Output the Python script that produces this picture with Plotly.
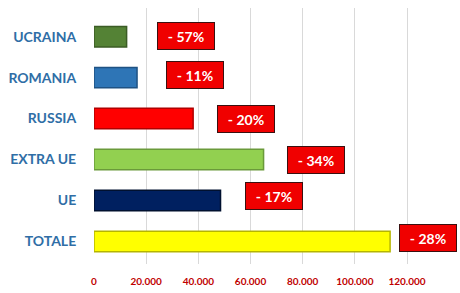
import plotly.graph_objects as go

categories = ["TOTALE", "UE", "EXTRA UE", "RUSSIA", "ROMANIA", "UCRAINA"]
values = [113500, 48500, 65000, 38000, 16500, 12500]
changes = ["- 28%", "- 17%", "- 34%", "- 20%", "- 11%", "- 57%"]
tick_vals = [0, 20000, 40000, 60000, 80000, 100000, 120000]
tick_text = ["0", "20.000", "40.000", "60.000", "80.000", "100.000", "120.000"]

bar_colors = ["#FFFF00", "#002060", "#92D050", "#FF0000", "#2E75B6", "#548235"]
edge_colors = ["#B5B500", "#00102F", "#6A9A3A", "#B00000", "#1F5283", "#3B5C25"]
label_xshift = [9, 24, 23, 24, 29, 30]
label_yshift = [3, 5, 0, 0, 3, 1]

fig = go.Figure()
fig.add_trace(go.Bar(
    y=categories, x=values, orientation="h",
    marker=dict(color=bar_colors, line=dict(color=edge_colors, width=1.5)),
    width=0.5, hoverinfo="skip",
))

for c, v, t, xs, ys in zip(categories, values, changes, label_xshift, label_yshift):
    fig.add_annotation(
        x=v, y=c, xref="x", yref="y", text="<b>" + t + "</b>",
        showarrow=False, xanchor="left", xshift=xs, yshift=ys,
        font=dict(family="Lato", size=14, color="white"),
        bgcolor="#F00000", bordercolor="#3A1010", borderwidth=1,
        width=48, height=18, borderpad=4, align="center",
    )

fig.update_layout(
    width=460, height=293,
    margin=dict(l=94, r=6, t=8, b=25),
    plot_bgcolor="white", paper_bgcolor="white",
    showlegend=False,
    xaxis=dict(
        range=[0, 138000], tickvals=tick_vals, ticktext=tick_text,
        showgrid=True, gridcolor="#D9D9D9", gridwidth=1, zeroline=False,
        ticks="outside", ticklen=8, tickcolor="rgba(0,0,0,0)",
        tickfont=dict(family="Lato", size=10, color="#C00000", weight="bold"),
        showline=False, fixedrange=True,
    ),
    yaxis=dict(
        range=[-0.55, 5.7], showgrid=False, zeroline=False, showline=False,
        ticks="outside", ticklen=14, tickcolor="rgba(0,0,0,0)",
        tickfont=dict(family="Lato", size=14, color="#2F6EA6", weight="bold"),
        fixedrange=True,
    ),
)

fig.write_html("out.html")
